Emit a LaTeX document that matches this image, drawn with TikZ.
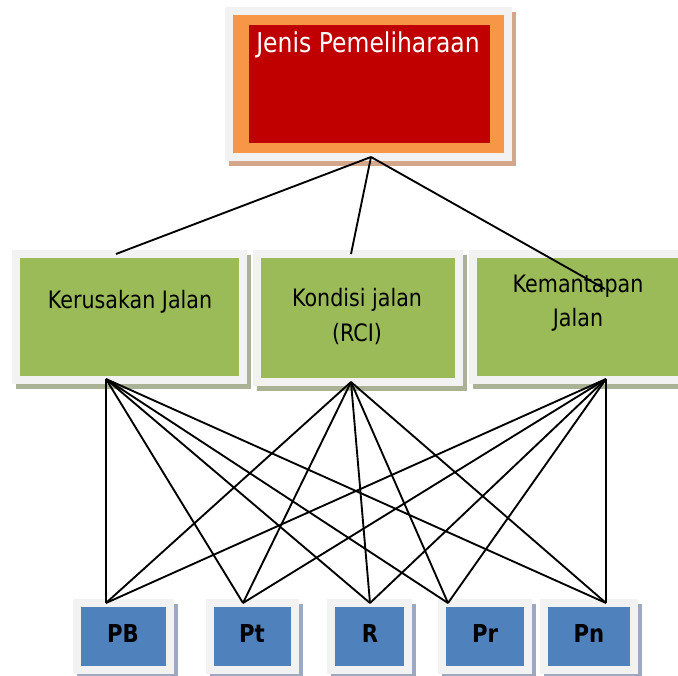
\documentclass[tikz,border=0pt]{standalone}
\usepackage{fontspec}
\setmainfont{DejaVu Sans}[FakeStretch=0.86]
\newdimen\pix \pix=0.75pt
\definecolor{framegray}{HTML}{F2F2F2}
\definecolor{boxorange}{HTML}{F79646}
\definecolor{boxred}{HTML}{C00000}
\definecolor{boxgreen}{HTML}{9BBB59}
\definecolor{boxblue}{HTML}{4F81BD}
\definecolor{tanshadow}{HTML}{D4A78A}
\definecolor{greenshadow}{HTML}{A9B294}
\definecolor{blueshadow}{HTML}{9CA9BF}
\begin{document}
\begin{tikzpicture}[x=0.75pt, y=-0.75pt,
    box/.style 2 args={inner sep=0pt, outer sep=0pt, fill=#1,
        preaction={draw=#2, fill=#2, line width=16\pix,
            transform canvas={xshift=4\pix, yshift=-5\pix}},
        preaction={draw=framegray, fill=framegray, line width=16\pix}},
    midtext/.style={anchor=base, align=center, font=\fontsize{18}{25}\selectfont},
    lowtext/.style={anchor=base, font=\fontsize{18.5}{20}\selectfont\bfseries},
    link/.style={line width=1.4pt}]
    \useasboundingbox (0,0) rectangle (678,675);

    % Top box
    \node[box={boxorange}{tanshadow}, minimum width=271\pix, minimum height=138\pix] (jp) at (368.5,84) {};
    \node[fill=boxred, inner sep=0pt, minimum width=241\pix, minimum height=118\pix] (jp-in) at (369.5,84) {};
    \node[anchor=base, white, font=\fontsize{20.5}{23}\selectfont] (jp-txt) at (368,52) {Jenis Pemeliharaan};

    % Criteria
    \node[box={boxgreen}{greenshadow}, minimum width=219\pix, minimum height=118\pix] (kj) at (129.5,317) {};
    \node[box={boxgreen}{greenshadow}, minimum width=194\pix, minimum height=120\pix] (kr) at (358,318) {};
    \node[box={boxgreen}{greenshadow}, minimum width=203\pix, minimum height=118\pix] (km) at (578.5,317) {};
    \node[midtext] (kj-txt) at (130,308) {Kerusakan Jalan};
    \node[midtext, font=\fontsize{18}{26}\selectfont] (kr-txt) at (357,341) {Kondisi jalan\\(RCI)};
    \node[midtext] (km-txt) at (578,326) {Kemantapan\\Jalan};

    % Alternatives
    \node[box={boxblue}{blueshadow}, minimum width=85\pix, minimum height=59\pix] (pb) at (123.5,636.5) {};
    \node[box={boxblue}{blueshadow}, minimum width=77\pix, minimum height=59\pix] (pt) at (252.5,636.5) {};
    \node[box={boxblue}{blueshadow}, minimum width=69\pix, minimum height=59\pix] (r) at (369.5,636.5) {};
    \node[box={boxblue}{blueshadow}, minimum width=78\pix, minimum height=59\pix] (pr) at (485,636.5) {};
    \node[box={boxblue}{blueshadow}, minimum width=82\pix, minimum height=59\pix] (pn) at (589,636.5) {};
    \node[lowtext] (pb-txt) at (123,642) {PB};
    \node[lowtext] (pt-txt) at (252,642) {Pt};
    \node[lowtext] (r-txt) at (370,642) {R};
    \node[lowtext] (pr-txt) at (485,642) {Pr};
    \node[lowtext] (pn-txt) at (589,642) {Pn};

    % Line ends
    \coordinate (jp-b) at (371,157);
    \coordinate (kj-t) at (116,254);
    \coordinate (kr-t) at (351,254);
    \coordinate (km-t) at (605,289);
    \coordinate (kj-b) at (106,379);
    \coordinate (kr-b) at (351,382);
    \coordinate (km-b) at (606,379);
    \coordinate (pb-t) at (106,603);
    \coordinate (pt-t) at (243,603);
    \coordinate (r-t) at (370,603);
    \coordinate (pr-t) at (448,603);
    \coordinate (pn-t) at (606,603);

    % Links
    \foreach \c in {kj,kr,km}
        \draw[link] (jp-b) -- (\c-t);
    \foreach \c in {kj,kr,km}
        \foreach \a in {pb,pt,r,pr,pn}
            \draw[link] (\c-b) -- (\a-t);
\end{tikzpicture}
\end{document}
